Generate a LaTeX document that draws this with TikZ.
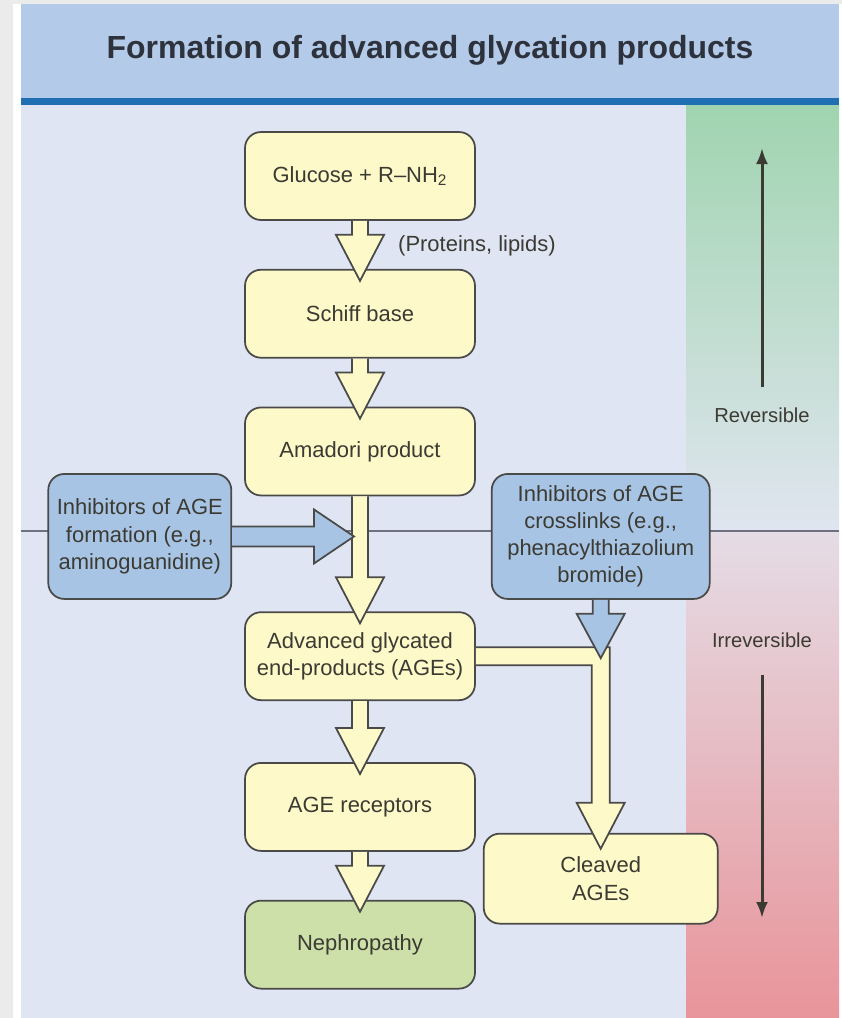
\documentclass[tikz,border=0pt]{standalone}
\usepackage{fontspec}
\setmainfont{Liberation Sans}
\usetikzlibrary{positioning,calc,arrows.meta}

\definecolor{pagegray}{HTML}{EBEBEB}
\definecolor{titleblue}{HTML}{B3CAE8}
\definecolor{titlegray}{HTML}{2E323C}
\definecolor{ruleblue}{HTML}{1F6FB2}
\definecolor{bodylav}{HTML}{DFE5F3}
\definecolor{midgray}{HTML}{6E7280}
\definecolor{revgreen}{HTML}{A0D4B0}
\definecolor{revlight}{HTML}{E0E5EF}
\definecolor{irrlight}{HTML}{E5DCE5}
\definecolor{irrred}{HTML}{E8949A}
\definecolor{boxyellow}{HTML}{FDF9C9}
\definecolor{boxblue}{HTML}{A8C4E5}
\definecolor{boxgreen}{HTML}{CDE0A9}
\definecolor{boxline}{HTML}{4A4A48}
\definecolor{txtgray}{HTML}{3B3B33}

\tikzstyle{title_text} = [text=titlegray,
						  font=\bfseries\fontsize{18.2}{22}\selectfont]
\tikzstyle{step_box} = [draw=boxline,
						line width=1pt,
						rounded corners=0.32cm,
						fill=boxyellow,
						text=txtgray,
						minimum width=4.6cm,
						minimum height=1.76cm,
						align=center,
						font=\fontsize{12.5}{15.5}\selectfont]
\tikzstyle{inhib_box} = [step_box,
						 fill=boxblue]
\tikzstyle{note_text} = [text=txtgray,
						 font=\fontsize{12.5}{15.5}\selectfont]
\tikzstyle{side_label} = [text=txtgray,
						  font=\fontsize{11.5}{14}\selectfont]
\tikzstyle{side_arrow} = [draw=txtgray,
						  line width=1.7pt,
						  -{Latex[length=0.32cm,width=0.24cm]}]
\tikzstyle{fat_arrow} = [draw=boxline,
						 line width=1pt,
						 line join=miter,
						 fill=boxyellow]

% hollow block arrow from the bottom of #2 down into the top of #3
\newcommand{\fatarrow}[3][boxyellow]{%
	\draw[fat_arrow, fill=#1] ($(#2.south)+(-8,0)$) -- ($(#3.north)+(-8,-34)$) -- ($(#3.north)+(-24,-34)$) -- ($(#3.north)+(0,12)$) -- ($(#3.north)+(24,-34)$) -- ($(#3.north)+(8,-34)$) -- ($(#2.south)+(8,0)$);}

\begin{document}
\begin{tikzpicture}[x=0.02cm, y=-0.02cm, node distance=0.96cm]

        % background panels
        \fill[pagegray] (0,0) rectangle (842,1018);
        \fill[white] (13,4) rectangle (842,1018);
        \fill[titleblue] (21,4) rectangle (839,98);
        \fill[ruleblue] (21,98) rectangle (839,105);
        \fill[bodylav] (21,105) rectangle (686,1018);
        \shade[top color=revgreen, bottom color=revlight] (686,105) rectangle (839,531);
        \shade[top color=irrlight, bottom color=irrred] (686,531) rectangle (839,1018);
        \draw[midgray, line width=1pt] (21,531) -- (839,531);

        \node[title_text] (title) at (430,50) {Formation of advanced glycation products};

        %%%%%%%%%%%%%%
        % MAIN CHAIN %
        %%%%%%%%%%%%%%
        \node[step_box] (glucose) at (360,176) {Glucose + R--NH\textsubscript{2}};
        \node[step_box, below=of glucose] (schiff) {Schiff base};
        \node[step_box, below=of schiff] (amadori) {Amadori product};
        \node[step_box, below=of amadori, yshift=-1.34cm] (ages) {Advanced glycated\\end-products (AGEs)};
        \node[step_box, below=of ages, yshift=-0.26cm] (recept) {AGE receptors};
        \node[step_box, below=of recept, fill=boxgreen] (neph) {Nephropathy};
        \node[note_text, right=0.64cm of glucose.south, yshift=-0.5cm] (prot) {(Proteins, lipids)};

        %%%%%%%%%%%%%%
        % INHIBITORS %
        %%%%%%%%%%%%%%
        \node[inhib_box, left=of amadori, xshift=0.72cm, yshift=-1.7cm, minimum width=3.66cm, minimum height=2.5cm] (formation) {Inhibitors of AGE\\formation (e.g.,\\aminoguanidine)};
        \node[inhib_box, right=of amadori, xshift=-0.66cm, yshift=-1.7cm, minimum width=4.36cm, minimum height=2.5cm] (xlink) {Inhibitors of AGE\\crosslinks (e.g.,\\phenacylthiazolium\\bromide)};
        \node[step_box, below=of xlink, yshift=-3.7cm, minimum width=4.68cm, minimum height=1.8cm] (cleaved) {Cleaved\\AGEs};

        % block arrows
        \fatarrow{glucose}{schiff}
        \fatarrow{schiff}{amadori}
        \fatarrow{amadori}{ages}
        \fatarrow{ages}{recept}
        \fatarrow{recept}{neph}
        \draw[fat_arrow] ($(ages.east)+(0,-9)$) -- ($(cleaved.north |- ages.east)+(9,-9)$) -- ($(cleaved.north)+(9,-30)$) -- ($(cleaved.north)+(24,-30)$) -- ($(cleaved.north)+(0,16)$) -- ($(cleaved.north)+(-24,-30)$) -- ($(cleaved.north)+(-9,-30)$) -- ($(cleaved.north |- ages.east)+(-9,9)$) -- ($(ages.east)+(0,9)$);
        \draw[fat_arrow, fill=boxblue] ($(formation.east)+(0,-10)$) -- ($(amadori.south |- formation.east)+(-46,-10)$) -- ($(amadori.south |- formation.east)+(-46,-27)$) -- ($(amadori.south |- formation.east)+(-6,0)$) -- ($(amadori.south |- formation.east)+(-46,27)$) -- ($(amadori.south |- formation.east)+(-46,10)$) -- ($(formation.east)+(0,10)$);
        \draw[fat_arrow, fill=boxblue] ($(xlink.south)+(-8,0)$) -- ($(xlink.south)+(-8,14)$) -- ($(xlink.south)+(-24,14)$) -- ($(xlink.south |- ages.east)+(0,2)$) -- ($(xlink.south)+(24,14)$) -- ($(xlink.south)+(8,14)$) -- ($(xlink.south)+(8,0)$);

        %%%%%%%%%%%%%%%%%
        % SIDE STRIP    %
        %%%%%%%%%%%%%%%%%
        \node[side_label] (rev) at (762,415) {Reversible};
        \node[side_label] (irrev) at (762,640) {Irreversible};
        \coordinate (revtop) at (762,148);
        \coordinate (irrbot) at (762,918);
        \draw[side_arrow] ([yshift=0.28cm]rev.north) -- (revtop);
        \draw[side_arrow] ([yshift=-0.42cm]irrev.south) -- (irrbot);

\end{tikzpicture}
\end{document}
